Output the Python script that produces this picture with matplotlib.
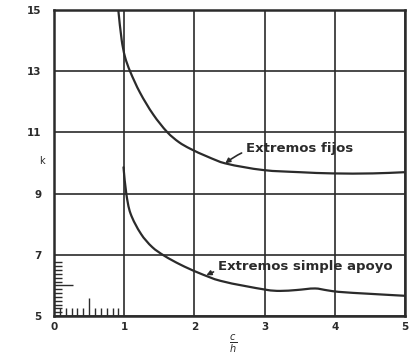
import numpy as np
import matplotlib
matplotlib.use("Agg")
import matplotlib.pyplot as plt
from matplotlib.path import Path
from matplotlib.patches import PathPatch

# curve readings (c/h, k)
fijos_x = [0.916, 0.964, 1.011, 1.083, 1.225, 1.415, 1.617, 1.78, 1.937, 2.184, 2.436, 2.98, 3.50, 3.97, 4.54, 5.0]
fijos_k = [15.0, 14.02, 13.47, 13.0, 12.30, 11.58, 11.0, 10.68, 10.47, 10.21, 9.99, 9.77, 9.70, 9.66, 9.66, 9.70]

apoyo_x = [0.99, 1.03, 1.09, 1.24, 1.40, 1.57, 1.80, 2.05, 2.37, 3.04, 3.22, 3.46, 3.72, 3.89, 4.05, 4.46, 5.0]
apoyo_k = [9.86, 9.0, 8.35, 7.68, 7.25, 6.97, 6.68, 6.42, 6.15, 5.85, 5.82, 5.85, 5.90, 5.84, 5.79, 5.73, 5.66]

x_ticks = [0, 1, 2, 3, 4, 5]
y_ticks = [5, 7, 9, 11, 13, 15]
x_minor = [i / 12 for i in range(1, 12)]
y_minor = [5 + i / 8 for i in range(1, 15)]

ink = "#2b2b2b"


def smooth_path(xs, ys, sx=70.0, sy=30.6):
    # hermite spline through the read points (chord-length params), as bezier segments
    p = np.column_stack([xs, ys]).astype(float)
    q = p * [sx, sy]
    t = np.concatenate([[0], np.cumsum(np.hypot(*np.diff(q, axis=0).T))])
    n = len(p)
    m = np.zeros_like(p)
    m[0] = (p[1] - p[0]) / (t[1] - t[0])
    m[-1] = (p[-1] - p[-2]) / (t[-1] - t[-2])
    for i in range(1, n - 1):
        m[i] = (p[i + 1] - p[i - 1]) / (t[i + 1] - t[i - 1])
    verts = [p[0]]
    codes = [Path.MOVETO]
    for i in range(n - 1):
        h = t[i + 1] - t[i]
        verts += [p[i] + m[i] * h / 3, p[i + 1] - m[i + 1] * h / 3, p[i + 1]]
        codes += [Path.CURVE4] * 3
    return Path(verts, codes)


fig = plt.figure(figsize=(4.12, 3.58), dpi=100)
ax = fig.add_axes([54 / 412, 42 / 358, 351 / 412, 306 / 358])

for xs, ys in [(fijos_x, fijos_k), (apoyo_x, apoyo_k)]:
    ax.add_patch(PathPatch(smooth_path(xs, ys), fill=False, edgecolor=ink,
                           lw=1.6, capstyle="round", zorder=3))

ax.set_xlim(0, 5)
ax.set_ylim(5, 15)
ax.set_xticks(x_ticks)
ax.set_yticks(y_ticks)
ax.set_xticklabels([str(v) for v in x_ticks], fontsize=7.5, fontweight="bold", color=ink)
ax.set_yticklabels([str(v) for v in y_ticks], fontsize=7.5, fontweight="bold", color=ink)
ax.tick_params(axis="x", which="major", length=0, pad=4)
ax.tick_params(axis="y", which="major", length=0, pad=9)
ax.grid(True, which="major", color=ink, lw=1.2)

# small scale marks at the lower left corner
ax.set_xticks(x_minor, minor=True)
ax.set_yticks(y_minor, minor=True)
ax.tick_params(which="minor", direction="in", length=6, width=1.0, color=ink)
for t, v in zip(ax.xaxis.get_minor_ticks(), x_minor):
    if abs(v - 0.5) < 1e-6:
        t.tick1line.set_markersize(13)
for t, v in zip(ax.yaxis.get_minor_ticks(), y_minor):
    if abs(v - 6.0) < 1e-6:
        t.tick1line.set_markersize(14)

for s in ax.spines.values():
    s.set_color(ink)
    s.set_linewidth(1.8)

ax.set_ylabel("k", rotation=0, fontsize=7, color=ink)
ax.yaxis.set_label_coords(-0.035, 0.49)
ax.set_xlabel(r"$\frac{c}{h}$", fontsize=10, color=ink)
ax.xaxis.set_label_coords(0.51, -0.055)

ax.annotate("Extremos fijos", xy=(2.44, 9.99), xytext=(2.73, 10.48),
            fontsize=9.5, fontweight="bold", color=ink, va="center",
            arrowprops=dict(arrowstyle="-|>", color=ink, lw=1.2,
                            connectionstyle="arc3,rad=0.25", shrinkA=1, shrinkB=0,
                            mutation_scale=7))
ax.annotate("Extremos simple apoyo", xy=(2.17, 6.33), xytext=(2.33, 6.61),
            fontsize=9.5, fontweight="bold", color=ink, va="center",
            arrowprops=dict(arrowstyle="-|>", color=ink, lw=1.2,
                            connectionstyle="arc3,rad=0.2", shrinkA=1, shrinkB=0,
                            mutation_scale=7))

fig.savefig("out.png", dpi=100, facecolor="white")
